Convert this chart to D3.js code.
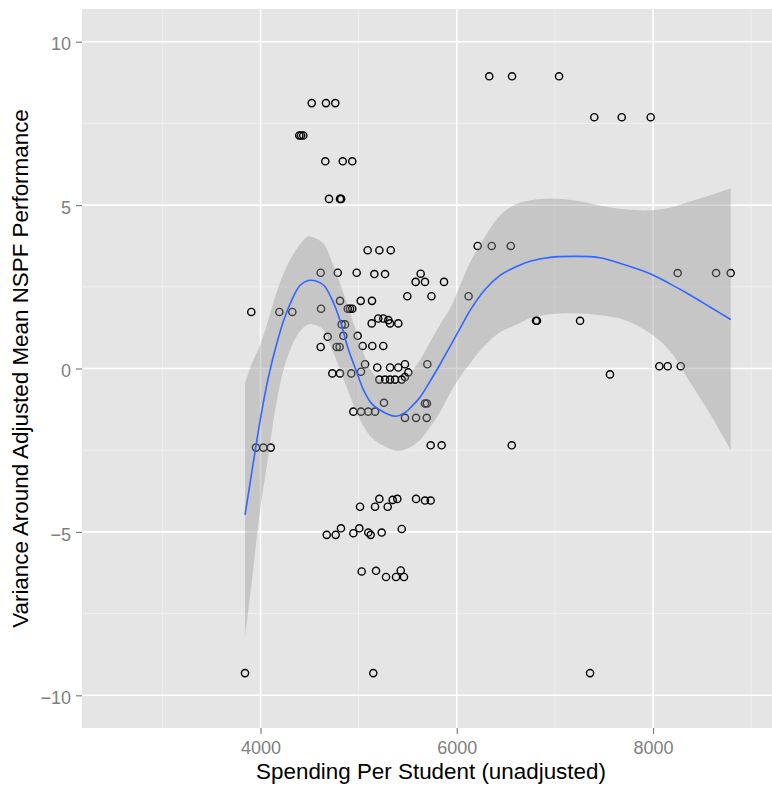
<!DOCTYPE html>
<html>
<head>
<meta charset="utf-8">
<script src="https://cdn.jsdelivr.net/npm/d3@7"></script>
<style>
  body { margin: 0; background: #ffffff; }
  text { font-family: 'Liberation Sans', Arial, sans-serif; }
</style>
</head>
<body>
<div class="display"></div>
<script>
// scatter: spending per student vs variance around adjusted mean
const spending = [
  4522, 4667, 4762, 4395, 4413, 4436, 4660, 4838, 4935, 4698, 4810, 4822,
  6331, 6563, 7042, 7401, 7681, 7976, 5092, 5211, 5327, 6213, 6356, 6550,
  4613, 4787, 4980, 5160, 5269, 5632, 5581, 5676, 5870, 8251, 8642, 8791,
  5496, 5742, 6120, 4810, 5021, 5136, 4617, 4889, 4935, 4912, 3906, 4192,
  4324, 4827, 4861, 5133, 5200, 5251, 5302, 5320, 5404, 6807, 6817, 7256,
  4685, 4844, 4990, 4613, 4776, 4806, 5041, 5139, 5251, 5065, 5190, 5320,
  5404, 5472, 5506, 5700, 4732, 4810, 4925, 5024, 5211, 5269, 5320, 5371,
  5439, 5472, 7561, 8064, 8149, 8282, 5258, 4946, 5024, 5098, 5167, 5676,
  5696, 5472, 5585, 5694, 5734, 5846, 6560, 3954, 4029, 4104, 5014, 5211,
  5167, 5296, 5347, 5394, 5585, 5676, 5734, 4675, 4766, 4820, 4946, 5007,
  5098, 5123, 5235, 5439, 5031, 5177, 5279, 5381, 5429, 5462, 3842, 5149,
  7358
];
const variance = [
  8.12, 8.12, 8.12, 7.13, 7.13, 7.13, 6.34, 6.34, 6.34, 5.19, 5.19, 5.19,
  8.94, 8.94, 8.94, 7.69, 7.69, 7.69, 3.62, 3.62, 3.62, 3.75, 3.75, 3.75,
  2.93, 2.93, 2.93, 2.89, 2.89, 2.90, 2.65, 2.65, 2.65, 2.92, 2.92, 2.92,
  2.21, 2.21, 2.21, 2.07, 2.07, 2.07, 1.83, 1.83, 1.83, 1.83, 1.73, 1.73,
  1.73, 1.35, 1.35, 1.38, 1.53, 1.53, 1.48, 1.38, 1.38, 1.46, 1.46, 1.46,
  0.97, 1.00, 1.00, 0.66, 0.66, 0.66, 0.69, 0.69, 0.69, 0.13, 0.03, 0.03,
  0.03, 0.13, -0.12, 0.13, -0.15, -0.15, -0.15, -0.10, -0.34, -0.34, -0.34, -0.34,
  -0.34, -0.26, -0.18, 0.07, 0.07, 0.07, -1.05, -1.32, -1.32, -1.32, -1.32, -1.07,
  -1.07, -1.51, -1.51, -1.51, -2.35, -2.35, -2.35, -2.42, -2.42, -2.42, -4.23, -3.99,
  -4.23, -4.23, -4.02, -3.99, -3.99, -4.04, -4.04, -5.09, -5.09, -4.89, -5.04, -4.89,
  -5.02, -5.09, -5.02, -4.91, -6.21, -6.19, -6.38, -6.38, -6.18, -6.38, -9.32, -9.32,
  -9.32
];

// loess smoother
const fitX = [
  3842, 3913, 3995, 4076, 4158, 4239, 4321, 4402, 4484, 4565, 4647, 4729,
  4810, 4892, 4973, 5055, 5137, 5218, 5300, 5381, 5463, 5544, 5626, 5728,
  5830, 5932, 6034, 6136, 6288, 6441, 6594, 6747, 6951, 7206, 7460, 7715,
  7970, 8174, 8377, 8581, 8791
];
const fitY = [
  -4.48, -3.14, -1.61, -0.33, 0.68, 1.50, 2.11, 2.54, 2.69, 2.68, 2.54, 2.11,
  1.48, 0.62, -0.05, -0.69, -1.09, -1.27, -1.40, -1.46, -1.37, -1.15, -0.88, -0.39,
  0.13, 0.68, 1.23, 1.78, 2.42, 2.85, 3.10, 3.28, 3.40, 3.43, 3.39, 3.17,
  2.90, 2.59, 2.25, 1.88, 1.50
];
const fitUpper = [
  -0.45, 0.16, 0.71, 1.45, 2.27, 2.94, 3.43, 3.80, 4.04, 3.98, 3.80, 3.25,
  2.61, 1.88, 1.14, 0.41, -0.11, -0.36, -0.45, -0.48, -0.36, -0.08, 0.26, 0.81,
  1.35, 1.84, 2.55, 3.25, 4.04, 4.68, 5.02, 5.14, 5.20, 5.14, 4.99, 4.87,
  4.84, 4.93, 5.11, 5.30, 5.51
];
const fitLower = [
  -8.21, -6.47, -4.36, -2.75, -1.12, 0.01, 0.71, 1.14, 1.35, 1.32, 1.17, 0.59,
  -0.02, -0.69, -1.30, -1.79, -2.13, -2.31, -2.43, -2.52, -2.49, -2.37, -2.19, -1.79,
  -1.33, -0.75, -0.26, 0.16, 0.71, 1.11, 1.32, 1.54, 1.66, 1.69, 1.63, 1.48,
  1.08, 0.53, -0.42, -1.39, -2.49
];

const xTicks = [4000, 6000, 8000];
const xMinor = [3000, 5000, 7000, 9000];
const yTicks = [-10, -5, 0, 5, 10];
const yMinor = [-7.5, -2.5, 2.5, 7.5];

const config = {
  width: 772,
  height: 785,
  panel: { left: 82, top: 9, right: 772, bottom: 728 },
  xDomain: [2181, 9212],
  yDomain: [-11, 11],
  xDisplay: 'Spending Per Student (unadjusted)',
  yDisplay: 'Variance Around Adjusted Mean NSPF Performance'
};

const p = config.panel;
const svg = d3.select('.display')
  .append('svg')
  .attr('width', config.width)
  .attr('height', config.height);

const x = d3.scaleLinear().domain(config.xDomain).range([p.left, p.right]);
const y = d3.scaleLinear().domain(config.yDomain).range([p.bottom, p.top]);

// panel background
svg.append('rect')
  .attr('x', p.left)
  .attr('y', p.top)
  .attr('width', p.right - p.left)
  .attr('height', p.bottom - p.top)
  .attr('fill', '#e5e5e5');

// minor grid
svg.append('g').selectAll('line.vminor')
  .data(xMinor).enter().append('line')
  .attr('x1', d => x(d)).attr('x2', d => x(d))
  .attr('y1', p.top).attr('y2', p.bottom)
  .attr('stroke', '#f2f2f2').attr('stroke-width', 0.8);
svg.append('g').selectAll('line.hminor')
  .data(yMinor).enter().append('line')
  .attr('x1', p.left).attr('x2', p.right)
  .attr('y1', d => y(d)).attr('y2', d => y(d))
  .attr('stroke', '#f2f2f2').attr('stroke-width', 0.8);

// major grid
svg.append('g').selectAll('line.vmajor')
  .data(xTicks).enter().append('line')
  .attr('x1', d => x(d)).attr('x2', d => x(d))
  .attr('y1', p.top).attr('y2', p.bottom)
  .attr('stroke', '#ffffff').attr('stroke-width', 1.6);
svg.append('g').selectAll('line.hmajor')
  .data(yTicks).enter().append('line')
  .attr('x1', p.left).attr('x2', p.right)
  .attr('y1', d => y(d)).attr('y2', d => y(d))
  .attr('stroke', '#ffffff').attr('stroke-width', 1.6);

// axes
const xAxis = svg.append('g')
  .attr('transform', `translate(0, ${p.bottom})`)
  .call(d3.axisBottom(x).tickValues(xTicks).tickSize(6).tickPadding(6).tickFormat(d3.format('d')));
const yAxis = svg.append('g')
  .attr('transform', `translate(${p.left}, 0)`)
  .call(d3.axisLeft(y).tickValues(yTicks).tickSize(6).tickPadding(5)
    .tickFormat(d => d < 0 ? '\u2212' + Math.abs(d) : d));

[xAxis, yAxis].forEach(a => {
  a.select('.domain').remove();
  a.selectAll('.tick line').attr('stroke', '#7f7f7f').attr('stroke-width', 1.2);
  a.selectAll('.tick text')
    .attr('fill', '#7f7f7f')
    .style('font-size', '18px')
    .style('font-family', "'Liberation Sans', Arial, sans-serif");
});
yAxis.selectAll('.tick text').attr('dy', '0.45em');
xAxis.selectAll('.tick text').attr('dy', '0.75em');

// points
svg.append('g').selectAll('circle')
  .data(spending.map((s, i) => [s, variance[i]]))
  .enter().append('circle')
  .attr('cx', d => x(d[0]))
  .attr('cy', d => y(d[1]))
  .attr('r', 3.6)
  .attr('fill', 'none')
  .attr('stroke', '#000000')
  .attr('stroke-width', 1.4);

// smoother ribbon and line
const fit = fitX.map((fx, i) => ({ x: fx, y: fitY[i], lo: fitLower[i], hi: fitUpper[i] }));

svg.append('path')
  .datum(fit)
  .attr('fill', '#999999')
  .attr('fill-opacity', 0.4)
  .attr('d', d3.area()
    .x(d => x(d.x))
    .y0(d => y(d.lo))
    .y1(d => y(d.hi))
    .curve(d3.curveCatmullRom));

svg.append('path')
  .datum(fit)
  .attr('fill', 'none')
  .attr('stroke', '#3366ff')
  .attr('stroke-width', 1.6)
  .attr('d', d3.line()
    .x(d => x(d.x))
    .y(d => y(d.y))
    .curve(d3.curveCatmullRom));

// axis titles
svg.append('text')
  .attr('x', (p.left + p.right) / 2 + 4)
  .attr('y', 779)
  .attr('text-anchor', 'middle')
  .style('font-size', '22.4px')
  .attr('fill', '#000000')
  .text(config.xDisplay);

svg.append('text')
  .attr('transform', `translate(28, ${(p.top + p.bottom) / 2}) rotate(-90)`)
  .attr('text-anchor', 'middle')
  .style('font-size', '22.4px')
  .attr('fill', '#000000')
  .text(config.yDisplay);
</script>
</body>
</html>
